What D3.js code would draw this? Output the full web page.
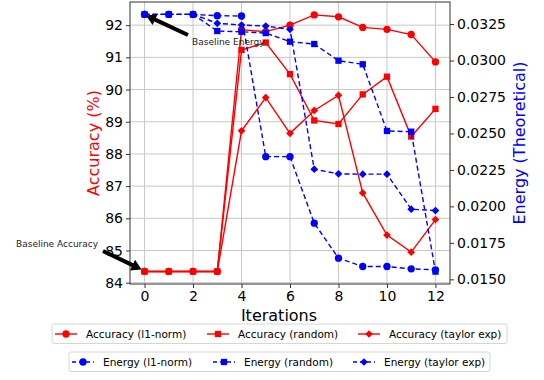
<!DOCTYPE html>
<html>
<head>
<meta charset="utf-8">
<script src="https://cdn.jsdelivr.net/npm/d3@7"></script>
<style>
body { margin: 0; background: #fff; }
svg { font-family: "DejaVu Sans", sans-serif; }
</style>
</head>
<body>
<div id="chart"></div>
<script>
// data
var iterations = [0, 1, 2, 3, 4, 5, 6, 7, 8, 9, 10, 11, 12];
var accL1     = [84.35, 84.35, 84.35, 84.35, 91.86, 91.80, 92.00, 92.32, 92.26, 91.93, 91.87, 91.71, 90.86];
var accRandom = [84.35, 84.35, 84.35, 84.35, 91.23, 91.46, 90.48, 89.04, 88.93, 89.85, 90.40, 88.54, 89.40];
var accTaylor = [84.35, 84.35, 84.35, 84.35, 88.72, 89.75, 88.64, 89.35, 89.82, 86.79, 85.48, 84.95, 85.96];
var energyL1     = [0.03316, 0.03316, 0.03316, 0.03307, 0.03305, 0.02341, 0.02341, 0.01885, 0.01645, 0.01588, 0.01588, 0.01572, 0.01565];
var energyRandom = [0.03316, 0.03316, 0.03316, 0.03202, 0.03197, 0.03188, 0.03129, 0.03113, 0.02999, 0.02974, 0.02517, 0.02512, 0.01553];
var energyTaylor = [0.03316, 0.03316, 0.03316, 0.03255, 0.03243, 0.03236, 0.03214, 0.02255, 0.02223, 0.02221, 0.02221, 0.01981, 0.01971];
var xTicks = [0, 2, 4, 6, 8, 10, 12];
var accTicks = [84, 85, 86, 87, 88, 89, 90, 91, 92];
var energyTicks = [0.0150, 0.0175, 0.0200, 0.0225, 0.0250, 0.0275, 0.0300, 0.0325];

var W = 544, H = 380;
var plot = {left: 130, right: 450, top: 2, bottom: 284};

var x = d3.scaleLinear().domain([-0.6, 12.6]).range([plot.left, plot.right]);
var yAcc = d3.scaleLinear().domain([83.96, 92.72]).range([plot.bottom, plot.top]);
var yEn = d3.scaleLinear().domain([0.01468, 0.03401]).range([plot.bottom, plot.top]);

var series = [
    {label: "Accuracy (l1-norm)",  values: accL1,     y: yAcc, color: "#ff0000", shape: "circle", dash: null},
    {label: "Accuracy (random)",   values: accRandom, y: yAcc, color: "#ff0000", shape: "square", dash: null},
    {label: "Accuracy (taylor exp)", values: accTaylor, y: yAcc, color: "#ff0000", shape: "diamond", dash: null},
    {label: "Energy (l1-norm)",    values: energyL1,     y: yEn, color: "#0000ff", shape: "circle", dash: "5,3"},
    {label: "Energy (random)",     values: energyRandom, y: yEn, color: "#0000ff", shape: "square", dash: "5,3"},
    {label: "Energy (taylor exp)", values: energyTaylor, y: yEn, color: "#0000ff", shape: "diamond", dash: "5,3"}
];

var svg = d3.select("#chart").append("svg")
    .attr("width", W)
    .attr("height", H);

// grid (x ticks and left axis ticks)
var grid = svg.append("g").attr("stroke", "#c8c8c8").attr("stroke-width", 1);
grid.selectAll(".gx").data(xTicks).enter().append("line")
    .attr("x1", function(d) { return x(d); }).attr("x2", function(d) { return x(d); })
    .attr("y1", plot.top).attr("y2", plot.bottom);
grid.selectAll(".gy").data(accTicks).enter().append("line")
    .attr("x1", plot.left).attr("x2", plot.right)
    .attr("y1", function(d) { return yAcc(d); }).attr("y2", function(d) { return yAcc(d); });

function markerPath(shape) {
    if (shape === "circle") return d3.symbol().type(d3.symbolCircle).size(42)();
    if (shape === "square") return d3.symbol().type(d3.symbolSquare).size(40)();
    return d3.symbol().type(d3.symbolSquare).size(30)();
}

// lines + markers
series.forEach(function(s) {
    var line = d3.line()
        .x(function(d, i) { return x(iterations[i]); })
        .y(function(d) { return s.y(d); });
    var g = svg.append("g");
    g.append("path")
        .datum(s.values)
        .attr("d", line)
        .attr("fill", "none")
        .attr("stroke", s.color)
        .attr("stroke-width", 1.4)
        .attr("stroke-dasharray", s.dash);
    g.selectAll("path.m")
        .data(s.values)
        .enter()
        .append("path")
        .attr("class", "m")
        .attr("d", markerPath(s.shape))
        .attr("transform", function(d, i) {
            return "translate(" + x(iterations[i]) + "," + s.y(d) + ")" + (s.shape === "diamond" ? " rotate(45)" : "");
        })
        .attr("fill", s.color);
});

// axes
var xAxis = svg.append("g")
    .attr("transform", "translate(0," + plot.bottom + ")")
    .call(d3.axisBottom(x).tickValues(xTicks).tickSize(4).tickPadding(3));
var lAxis = svg.append("g")
    .attr("transform", "translate(" + plot.left + ",0)")
    .call(d3.axisLeft(yAcc).tickValues(accTicks).tickSize(4).tickPadding(3));
var rAxis = svg.append("g")
    .attr("transform", "translate(" + plot.right + ",0)")
    .call(d3.axisRight(yEn).tickValues(energyTicks).tickFormat(d3.format(".4f")).tickSize(4).tickPadding(3));
[xAxis, lAxis, rAxis].forEach(function(a) {
    a.selectAll("text").attr("fill", "#000").style("font-size", "14px").style("font-family", "DejaVu Sans");
    a.selectAll("line").attr("stroke", "#333");
    a.select(".domain").remove();
});

// frame
svg.append("rect")
    .attr("x", plot.left).attr("y", plot.top)
    .attr("width", plot.right - plot.left).attr("height", plot.bottom - plot.top)
    .attr("fill", "none").attr("stroke", "#333").attr("stroke-width", 1);

// axis labels
svg.append("text")
    .attr("transform", "translate(99,143) rotate(-90)")
    .attr("text-anchor", "middle")
    .attr("fill", "#ff0000")
    .style("font-size", "16px")
    .text("Accuracy (%)");
svg.append("text")
    .attr("transform", "translate(525,143) rotate(-90)")
    .attr("text-anchor", "middle")
    .attr("fill", "#0000ff")
    .style("font-size", "16px")
    .text("Energy (Theoretical)");
svg.append("text")
    .attr("x", 279).attr("y", 321)
    .attr("text-anchor", "middle")
    .attr("fill", "#000")
    .style("font-size", "16px")
    .text("Iterations");

// annotations with arrows
function arrow(x0, y0, x1, y1) {
    var dx = x1 - x0, dy = y1 - y0, len = Math.sqrt(dx * dx + dy * dy);
    var ux = dx / len, uy = dy / len, px = -uy, py = ux;
    var hw = 2, hl = 10, hh = 6;
    var bx = x1 - ux * hl, by = y1 - uy * hl;
    var pts = [
        [x0 + px * hw, y0 + py * hw],
        [bx + px * hw, by + py * hw],
        [bx + px * hh, by + py * hh],
        [x1, y1],
        [bx - px * hh, by - py * hh],
        [bx - px * hw, by - py * hw],
        [x0 - px * hw, y0 - py * hw]
    ];
    svg.append("path")
        .attr("d", "M" + pts.join("L") + "Z")
        .attr("fill", "#000");
}
arrow(188, 35, x(0) + 1.5, yEn(energyL1[0]) + 1);
arrow(103, 251, x(0) - 3, yAcc(accL1[0]) - 2);
svg.append("text")
    .attr("x", 192).attr("y", 45)
    .attr("fill", "#222")
    .style("font-size", "9px")
    .text("Baseline Energy");
svg.append("text")
    .attr("x", 16).attr("y", 247)
    .attr("fill", "#222")
    .style("font-size", "9px")
    .text("Baseline Accuracy");

// legends
function legend(items, bx, by, bw, offsets) {
    var g = svg.append("g");
    g.append("rect")
        .attr("x", bx).attr("y", by)
        .attr("width", bw).attr("height", 19.5)
        .attr("rx", 2)
        .attr("fill", "#fff")
        .attr("stroke", "#d6d6d6");
    items.forEach(function(s, i) {
        var hx = offsets[i], cy = by + 10;
        g.append("line")
            .attr("x1", hx).attr("x2", hx + 22)
            .attr("y1", cy).attr("y2", cy)
            .attr("stroke", s.color).attr("stroke-width", 1.4)
            .attr("stroke-dasharray", s.dash ? "4,3" : null);
        g.append("path")
            .attr("d", markerPath(s.shape))
            .attr("transform", "translate(" + (hx + 11) + "," + cy + ")" + (s.shape === "diamond" ? " rotate(45)" : ""))
            .attr("fill", s.color);
        g.append("text")
            .attr("x", hx + 31).attr("y", cy + 3.8)
            .attr("fill", "#000")
            .style("font-size", "10.5px")
            .text(s.label);
    });
}
legend(series.slice(0, 3), 52, 324, 455, [55, 207, 358]);
legend(series.slice(3), 69, 352, 421, [72, 213, 353]);
</script>
</body>
</html>
